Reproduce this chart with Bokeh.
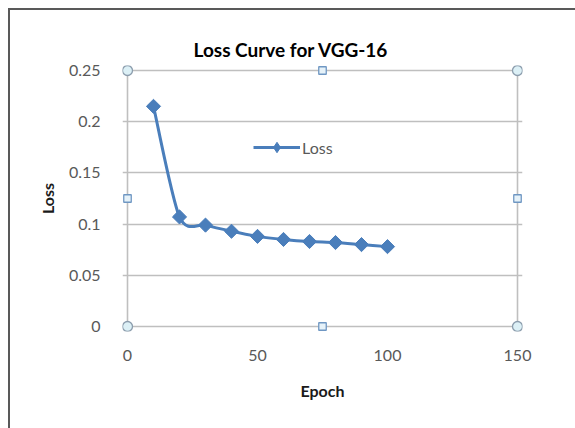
import numpy as np
from bokeh.plotting import figure
from bokeh.models import Range1d, FixedTicker, Legend, LegendItem, ColumnDataSource
from bokeh.embed import file_html
from bokeh.resources import INLINE

# ---- data ----
epochs = [10, 20, 30, 40, 50, 60, 70, 80, 90, 100]
loss = [0.215, 0.107, 0.099, 0.093, 0.088, 0.085, 0.083, 0.082, 0.080, 0.078]
x_ticks = [0, 50, 100, 150]
x_tick_labels = ["0", "50", "100", "150"]
y_ticks = [0, 0.05, 0.1, 0.15, 0.2, 0.25]
y_tick_labels = ["0", "0.05", "0.1", "0.15", "0.2", "0.25"]

FONT = "Lato"
BLUE = "#4a7ebb"
GRID = "#bfbfbf"
FRAME_EDGE = "#595959"

# pixel padding so the corner handles are not clipped
pad_px = 5
xmin, xmax = x_ticks[0], x_ticks[-1]
ymin, ymax = y_ticks[0], y_ticks[-1]
frame_w, frame_h = 390, 256
dx = pad_px * (xmax - xmin) / frame_w
dy = pad_px * (ymax - ymin) / frame_h

chart_area_css = {
    "background-color": "white",
    "background-image": f"linear-gradient({FRAME_EDGE},{FRAME_EDGE}), linear-gradient({FRAME_EDGE},{FRAME_EDGE})",
    "background-size": "567px 2px, 2px 420px",
    "background-position": "8px 8px, 8px 8px",
    "background-repeat": "no-repeat",
}

p = figure(width=575, height=428, output_backend="svg", toolbar_location=None,
           x_range=Range1d(xmin - dx, xmax + dx), y_range=Range1d(ymin - dy, ymax + dy),
           min_border_left=122, min_border_right=53, min_border_top=65, min_border_bottom=97,
           styles=chart_area_css)
p.outline_line_color = None
p.background_fill_color = None
p.border_fill_color = None

# title
p.title.text = "Loss Curve for VGG-16"
p.title.text_font = FONT
p.title.text_font_size = "19px"
p.title.text_font_style = "bold"
p.title.text_color = "#000000"
p.title.align = "left"
p.title.offset = 71
p.title.standoff = 9

# grids
p.xgrid.ticker = FixedTicker(ticks=[xmin, xmax])
p.ygrid.ticker = FixedTicker(ticks=y_ticks)
for g in (p.xgrid, p.ygrid):
    g.grid_line_color = GRID
    g.grid_line_width = 1.6

# axes
p.xaxis.ticker = FixedTicker(ticks=x_ticks)
p.yaxis.ticker = FixedTicker(ticks=y_ticks)
p.xaxis.major_label_overrides = {t: l for t, l in zip(x_ticks, x_tick_labels)}
p.yaxis.major_label_overrides = {t: l for t, l in zip(y_ticks, y_tick_labels)}
p.xaxis.axis_label = "Epoch"
p.yaxis.axis_label = "Loss"
for ax in (p.xaxis, p.yaxis):
    ax.axis_line_color = None
    ax.major_tick_line_color = None
    ax.minor_tick_line_color = None
    ax.major_label_text_font = FONT
    ax.major_label_text_font_size = "16px"
    ax.major_label_text_color = "#595959"
    ax.axis_label_text_font = FONT
    ax.axis_label_text_font_size = "16px"
    ax.axis_label_text_font_style = "bold"
    ax.axis_label_text_color = "#1a1a1a"
p.xaxis.major_label_standoff = 12
p.xaxis.axis_label_standoff = 17
p.yaxis.major_label_standoff = 16
p.yaxis.axis_label_standoff = 9

# smoothed line (cubic Bezier segments through the data points, Catmull-Rom control points)
P = np.column_stack([epochs, loss]).astype(float)
n = len(P)
tension = 1 / 7.0
segs = {k: [] for k in ("x0", "y0", "x1", "y1", "cx0", "cy0", "cx1", "cy1")}
for i in range(n - 1):
    p0 = P[i - 1] if i > 0 else P[i]
    p1 = P[i]
    p2 = P[i + 1]
    p3 = P[i + 2] if i + 2 < n else P[i + 1]
    c1 = p1 + (p2 - p0) * tension
    c2 = p2 - (p3 - p1) * tension
    segs["x0"].append(p1[0]); segs["y0"].append(p1[1])
    segs["x1"].append(p2[0]); segs["y1"].append(p2[1])
    segs["cx0"].append(c1[0]); segs["cy0"].append(c1[1])
    segs["cx1"].append(c2[0]); segs["cy1"].append(c2[1])
curve = p.bezier(source=ColumnDataSource(segs), x0="x0", y0="y0", x1="x1", y1="y1",
                 cx0="cx0", cy0="cy0", cx1="cx1", cy1="cy1",
                 line_color=BLUE, line_width=3)

pts = p.scatter(epochs, loss, marker="square", size=10, angle=np.pi / 4,
                fill_color=BLUE, line_color=BLUE, line_width=1)

# legend marker (diamond glyph; its only point is NaN so nothing is drawn in the plot)
legend_marker = p.scatter([float("nan")], [float("nan")], marker="diamond", size=12,
                          fill_color=BLUE, line_color=BLUE, line_width=1)

# selection handles of the plot area
p.scatter([xmin, xmax, xmin, xmax], [ymin, ymin, ymax, ymax], marker="circle", size=10,
          fill_color="#dcf0f6", line_color="#8c9dad", line_width=1.3)
xm, ym = (xmin + xmax) / 2, (ymin + ymax) / 2
p.scatter([xm, xm, xmin, xmax], [ymin, ymax, ym, ym], marker="square", size=7.5,
          fill_color="#e6f2f9", line_color="#6f97c3", line_width=1.3)

# legend
legend = Legend(items=[LegendItem(label="Loss", renderers=[curve, legend_marker])],
                location=(131, 171), padding=0, margin=0, spacing=0,
                glyph_width=47, glyph_height=26, label_standoff=2,
                label_text_font=FONT, label_text_font_size="16px",
                label_text_color="#595959", border_line_color=None,
                background_fill_alpha=0)
p.add_layout(legend)

open("out.html", "w").write(file_html(p, INLINE))
